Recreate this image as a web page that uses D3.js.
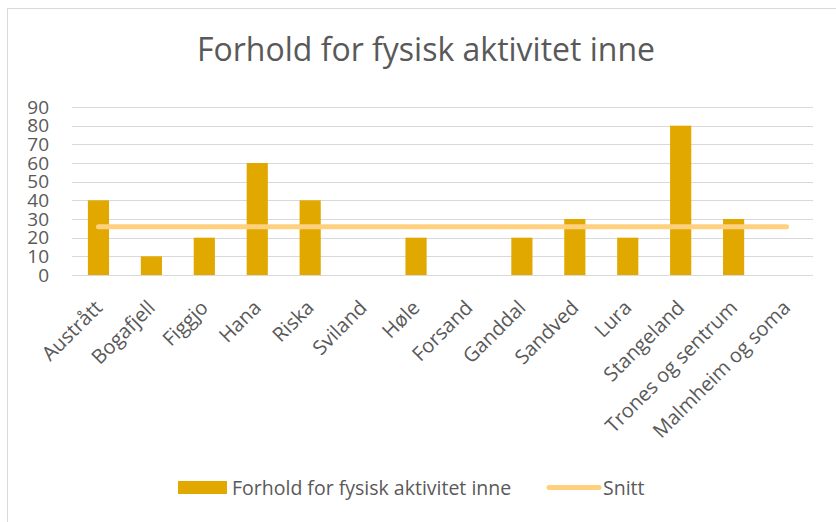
<!DOCTYPE html>
<html>
<head>
<meta charset="utf-8">
<script src="https://cdn.jsdelivr.net/npm/d3@7"></script>
<style>
  html, body { margin: 0; padding: 0; background: #fff; }
  svg { display: block; }
  text { font-family: "Open Sans", sans-serif; fill: #595959; }
</style>
</head>
<body>
<svg id="chart" width="836" height="522"></svg>
<script>
const categories = ["Austrått", "Bogafjell", "Figgjo", "Hana", "Riska", "Sviland", "Høle", "Forsand", "Ganddal", "Sandved", "Lura", "Stangeland", "Trones og sentrum", "Malmheim og soma"];
const barValues = [40, 10, 20, 60, 40, 0, 20, 0, 20, 30, 20, 80, 30, 0];
const snittValues = [25.8, 25.8, 25.8, 25.8, 25.8, 25.8, 25.8, 25.8, 25.8, 25.8, 25.8, 25.8, 25.8, 25.8];
const yTicks = [0, 10, 20, 30, 40, 50, 60, 70, 80, 90];
const title = "Forhold for fysisk aktivitet inne";
const seriesNames = ["Forhold for fysisk aktivitet inne", "Snitt"];

const barColor = "#E1A900";
const lineColor = "#FFD17F";
const gridColor = "#D9D9D9";

const svg = d3.select("#chart");

// outer border
svg.append("rect")
  .attr("x", 7.5).attr("y", 8.5)
  .attr("width", 840).attr("height", 530)
  .attr("fill", "none").attr("stroke", "#D9D9D9").attr("stroke-width", 1);

const x = d3.scaleBand().domain(categories).range([72, 813]).paddingInner(0.6).paddingOuter(0.3);
const y = d3.scaleLinear().domain([0, 90]).range([275, 107]);

// title
svg.append("text")
  .attr("x", 426).attr("y", 61)
  .attr("text-anchor", "middle")
  .attr("font-size", 32)
  .text(title);

// gridlines
svg.append("g").selectAll("line").data(yTicks).join("line")
  .attr("x1", 72).attr("x2", 813)
  .attr("y1", d => Math.round(y(d)) + 0.5).attr("y2", d => Math.round(y(d)) + 0.5)
  .attr("stroke", gridColor).attr("stroke-width", 1);

// y axis labels
const yAxis = d3.axisLeft(y).tickValues(yTicks).tickSize(0).tickPadding(0);
const yg = svg.append("g").attr("transform", "translate(49,0)").call(yAxis);
yg.select(".domain").remove();
yg.selectAll("text").attr("font-size", 19).attr("fill", "#595959").attr("font-family", "Open Sans, sans-serif");

// bars
svg.append("g").selectAll("rect").data(barValues).join("rect")
  .attr("x", (d, i) => x(categories[i]))
  .attr("width", x.bandwidth())
  .attr("y", d => y(d))
  .attr("height", d => y(0) - y(d))
  .attr("fill", barColor);

// snitt line
const line = d3.line()
  .x((d, i) => x(categories[i]) + x.bandwidth() / 2)
  .y(d => y(d));
svg.append("path")
  .datum(snittValues)
  .attr("d", line)
  .attr("fill", "none")
  .attr("stroke", lineColor)
  .attr("stroke-width", 5)
  .attr("stroke-linecap", "round");

// x labels
const xAxis = d3.axisBottom(x).tickSize(0).tickPadding(0);
const xg = svg.append("g").attr("transform", "translate(0,282)").call(xAxis);
xg.select(".domain").remove();
xg.selectAll("text")
  .attr("font-size", 20)
  .attr("fill", "#595959")
  .attr("font-family", "Open Sans, sans-serif")
  .attr("text-anchor", "end")
  .attr("y", 0)
  .attr("dy", 0)
  .attr("transform", "translate(5,27) rotate(-45)");

// legend
const lg = svg.append("g");
lg.append("rect").attr("x", 178).attr("y", 481).attr("width", 49).attr("height", 13).attr("fill", barColor);
lg.append("text").attr("x", 232).attr("y", 495).attr("font-size", 19.5).text(seriesNames[0]);
lg.append("line").attr("x1", 549).attr("x2", 599).attr("y1", 487.5).attr("y2", 487.5)
  .attr("stroke", lineColor).attr("stroke-width", 5).attr("stroke-linecap", "round");
lg.append("text").attr("x", 603).attr("y", 495).attr("font-size", 19.5).text(seriesNames[1]);
</script>
</body>
</html>
